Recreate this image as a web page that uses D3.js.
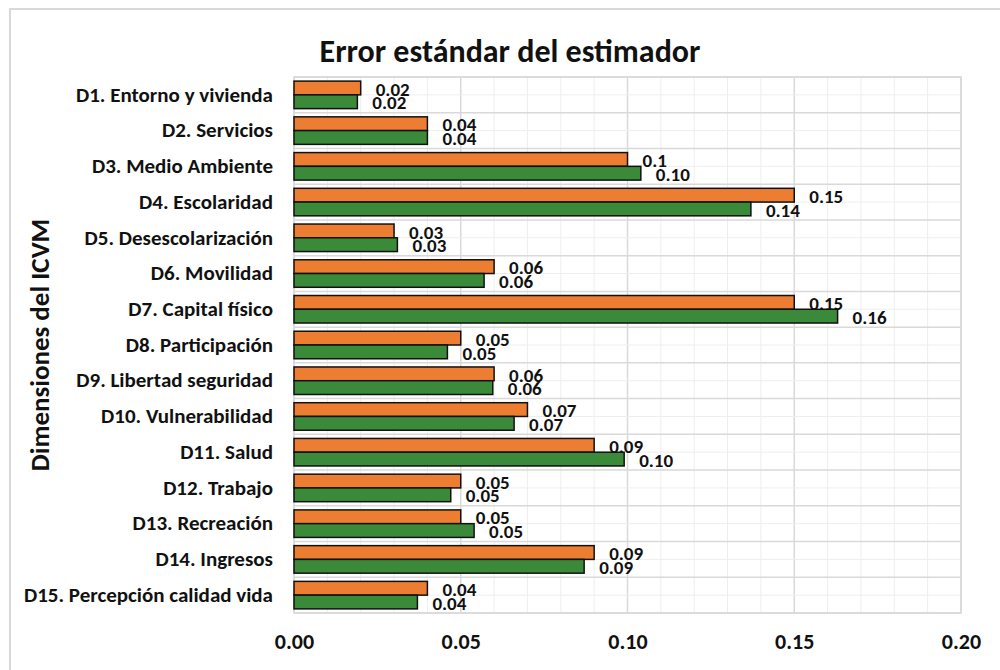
<!DOCTYPE html>
<html>
<head>
<meta charset="utf-8">
<script src="https://cdn.jsdelivr.net/npm/d3@7"></script>
<style>
  body { margin: 0; background: #fff; }
  svg { display: block; font-family: Carlito, Calibri, "Open Sans", sans-serif; }
</style>
</head>
<body>
<svg id="chart"></svg>
<script>
// Dimensiones del ICVM
const categories = [
  "D1. Entorno y vivienda", "D2. Servicios", "D3. Medio Ambiente", "D4. Escolaridad",
  "D5. Desescolarización", "D6. Movilidad", "D7. Capital físico", "D8. Participación",
  "D9. Libertad seguridad", "D10. Vulnerabilidad", "D11. Salud", "D12. Trabajo",
  "D13. Recreación", "D14. Ingresos", "D15. Percepción calidad vida"
];

// orange series (labels shown in general format)
const seriesA = [0.02, 0.04, 0.1, 0.15, 0.03, 0.06, 0.15, 0.05, 0.06, 0.07, 0.09, 0.05, 0.05, 0.09, 0.04];
// green series (labels shown with 2 decimals)
const seriesB = [0.019, 0.04, 0.104, 0.137, 0.031, 0.057, 0.163, 0.046, 0.0596, 0.066, 0.099, 0.047, 0.054, 0.087, 0.037];

const xTicks = [0, 0.05, 0.10, 0.15, 0.20];

const width = 1000, height = 670;
const plot = { left: 294, right: 961, top: 77, bottom: 613 };

const svg = d3.select("#chart").attr("width", width).attr("height", height);

// outer chart frame
svg.append("rect")
  .attr("x", 10).attr("y", 9)
  .attr("width", 1000).attr("height", 700)
  .attr("fill", "#fff")
  .attr("stroke", "#d9d9d9")
  .attr("stroke-width", 2);

const x = d3.scaleLinear().domain([0, 0.2]).range([plot.left, plot.right]);

const y = d3.scaleBand()
  .domain(categories)
  .range([plot.top, plot.bottom])
  .paddingInner(0.23)
  .paddingOuter(0.115);

const sub = d3.scaleBand().domain(["a", "b"]).range([0, y.bandwidth()]);

// gridlines
const step = (plot.bottom - plot.top) / categories.length;
const grid = svg.append("g");
d3.range(0, 0.2001, 0.01).forEach((v, i) => {
  grid.append("line")
    .attr("x1", x(v)).attr("x2", x(v))
    .attr("y1", plot.top).attr("y2", plot.bottom)
    .attr("stroke", i % 5 === 0 ? "#d9d9d9" : "#eeeeee")
    .attr("stroke-width", i % 5 === 0 ? 1.5 : 1);
});
d3.range(0, categories.length * 2 + 1).forEach(i => {
  const yy = plot.top + i * step / 2;
  grid.append("line")
    .attr("x1", plot.left).attr("x2", plot.right)
    .attr("y1", yy).attr("y2", yy)
    .attr("stroke", i % 2 === 0 ? "#d9d9d9" : "#eeeeee")
    .attr("stroke-width", i % 2 === 0 ? 1.5 : 1);
});

svg.append("rect")
  .attr("x", plot.left).attr("y", plot.top)
  .attr("width", plot.right - plot.left).attr("height", plot.bottom - plot.top)
  .attr("fill", "none")
  .attr("stroke", "#d9d9d9")
  .attr("stroke-width", 1.5);

// bars
const rows = categories.map((c, i) => ({ cat: c, a: seriesA[i], b: seriesB[i] }));
const groups = svg.append("g").selectAll("g")
  .data(rows)
  .join("g")
  .attr("transform", d => `translate(0,${y(d.cat)})`);

groups.append("rect")
  .attr("x", x(0)).attr("y", sub("a"))
  .attr("width", d => x(d.a) - x(0)).attr("height", sub.bandwidth())
  .attr("fill", "#ed7d31").attr("stroke", "#111").attr("stroke-width", 1.5);

groups.append("rect")
  .attr("x", x(0)).attr("y", sub("b"))
  .attr("width", d => x(d.b) - x(0)).attr("height", sub.bandwidth())
  .attr("fill", "#3b8a39").attr("stroke", "#111").attr("stroke-width", 1.5);

// data labels
groups.append("text")
  .attr("x", d => x(d.a) + 15)
  .attr("y", sub("a") + sub.bandwidth() / 2 + 1)
  .attr("dy", "0.35em")
  .style("font-size", "19px").style("font-weight", "bold").attr("fill", "#111")
  .text(d => String(d.a));

groups.append("text")
  .attr("x", d => x(d.b) + 15)
  .attr("y", sub("b") + sub.bandwidth() / 2 + 1)
  .attr("dy", "0.35em")
  .style("font-size", "19px").style("font-weight", "bold").attr("fill", "#111")
  .text(d => d3.format(".2f")(d.b));

// category axis
const yAxis = svg.append("g")
  .attr("transform", `translate(${plot.left},0)`)
  .call(d3.axisLeft(y).tickSize(0).tickPadding(21));
yAxis.select(".domain").remove();
yAxis.selectAll("text")
  .style("font-family", "Carlito, Calibri, 'Open Sans', sans-serif")
  .style("font-size", "21px").style("font-weight", "bold").attr("fill", "#111");

// value axis
const xAxis = svg.append("g")
  .attr("transform", `translate(0,${plot.bottom})`)
  .call(d3.axisBottom(x).tickValues(xTicks).tickFormat(d3.format(".2f")).tickSize(0).tickPadding(20));
xAxis.select(".domain").remove();
xAxis.selectAll("text")
  .style("font-family", "Carlito, Calibri, 'Open Sans', sans-serif")
  .style("font-size", "22px").style("font-weight", "bold").attr("fill", "#111");

// titles
svg.append("text")
  .attr("x", 510).attr("y", 62)
  .attr("text-anchor", "middle")
  .style("font-size", "32px").style("font-weight", "bold").attr("fill", "#111")
  .text("Error estándar del estimador");

svg.append("text")
  .attr("transform", "translate(49,345) rotate(-90)")
  .attr("text-anchor", "middle")
  .style("font-size", "27px").style("font-weight", "bold").attr("fill", "#111")
  .text("Dimensiones del ICVM");
</script>
</body>
</html>
